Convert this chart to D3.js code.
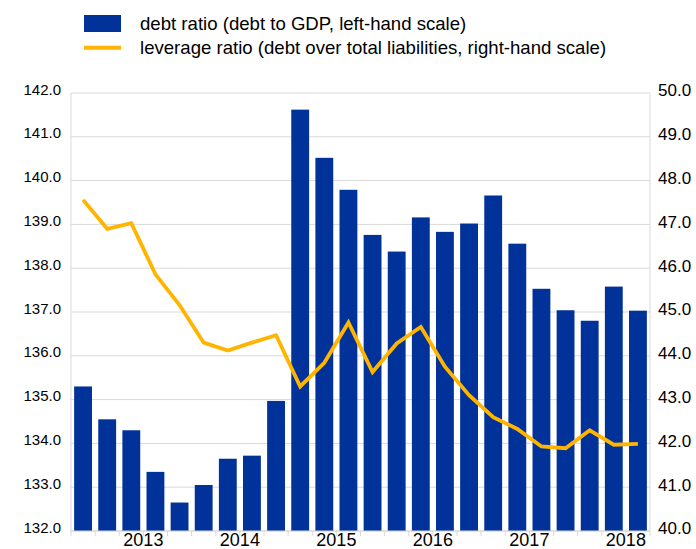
<!DOCTYPE html>
<html>
<head>
<meta charset="utf-8">
<script src="https://cdn.jsdelivr.net/npm/d3@7"></script>
<style>
  body { margin: 0; background: #fff; }
  text { font-family: "Liberation Sans", Arial, sans-serif; fill: #000; }
</style>
</head>
<body>
<div id="chart"></div>
<script>
// quarters 2012 Q4 .. 2018 Q3
var quarters = ["2012Q4",
  "2013Q1", "2013Q2", "2013Q3", "2013Q4",
  "2014Q1", "2014Q2", "2014Q3", "2014Q4",
  "2015Q1", "2015Q2", "2015Q3", "2015Q4",
  "2016Q1", "2016Q2", "2016Q3", "2016Q4",
  "2017Q1", "2017Q2", "2017Q3", "2017Q4",
  "2018Q1", "2018Q2", "2018Q3"];
var years = ["2013", "2014", "2015", "2016", "2017", "2018"];

// debt to GDP, left-hand scale
var debtRatio = [135.3,
  134.55, 134.3, 133.35, 132.65,
  133.05, 133.65, 133.72, 134.97,
  141.62, 140.52, 139.79, 138.76,
  138.38, 139.16, 138.83, 139.02,
  139.66, 138.56, 137.53, 137.04,
  136.8, 137.58, 137.03];

// debt over total liabilities, right-hand scale
var leverageRatio = [47.56,
  46.9, 47.03, 45.86, 45.16,
  44.3, 44.12, 44.3, 44.47,
  43.3, 43.84, 44.76, 43.63,
  44.28, 44.66, 43.75, 43.1,
  42.6, 42.33, 41.93, 41.89,
  42.3, 41.97, 41.99];

var leftTicks = d3.range(132, 142.01, 1);
var rightTicks = d3.range(40, 50.01, 1);

var W = 696, H = 549;
var margin = { top: 93, right: 46, bottom: 18, left: 71 };
var width = W - margin.left - margin.right;
var height = H - margin.top - margin.bottom;

var blue = "#003299", yellow = "#ffb400", grid = "#d9d9d9";

var svg = d3.select("#chart").append("svg")
    .attr("width", W)
    .attr("height", H);

var g = svg.append("g")
    .attr("transform", `translate(${margin.left},${margin.top})`);

var x = d3.scaleBand()
    .domain(quarters)
    .range([0, width])
    .paddingInner(0.26)
    .paddingOuter(0.13);

var yL = d3.scaleLinear().domain([132, 142]).range([height, 0]);
var yR = d3.scaleLinear().domain([40, 50]).range([height, 0]);

// gridlines
g.append("g")
    .selectAll("line")
    .data(leftTicks)
    .enter().append("line")
    .attr("x1", 0)
    .attr("x2", width)
    .attr("y1", d => yL(d))
    .attr("y2", d => yL(d))
    .attr("stroke", grid)
    .attr("stroke-width", 1);

// side frame lines
g.append("line").attr("x1", 0).attr("x2", 0).attr("y1", 0).attr("y2", height)
    .attr("stroke", grid);
g.append("line").attr("x1", width).attr("x2", width).attr("y1", 0).attr("y2", height)
    .attr("stroke", grid);

// bars
g.append("g")
    .selectAll("rect")
    .data(debtRatio)
    .enter().append("rect")
    .attr("x", (d, i) => x(quarters[i]))
    .attr("width", x.bandwidth())
    .attr("y", d => yL(d))
    .attr("height", d => height - yL(d))
    .attr("fill", blue);

// bottom axis: ticks between quarters, labels per year
var step = x.step();
var boundaries = d3.range(0, quarters.length + 1);
g.append("g")
    .selectAll("line")
    .data(boundaries)
    .enter().append("line")
    .attr("x1", d => d * step)
    .attr("x2", d => d * step)
    .attr("y1", height)
    .attr("y2", height + 5)
    .attr("stroke", grid);
g.append("line").attr("x1", 0).attr("x2", width).attr("y1", height).attr("y2", height)
    .attr("stroke", grid);

g.append("g")
    .selectAll("text")
    .data(years)
    .enter().append("text")
    .attr("x", d => (quarters.indexOf(d + "Q1") + 2) * step)
    .attr("y", height + 15)
    .attr("text-anchor", "middle")
    .style("font-size", "18px")
    .text(d => d);

// left tick labels
g.append("g")
    .selectAll("text")
    .data(leftTicks)
    .enter().append("text")
    .attr("x", -10)
    .attr("y", d => yL(d))
    .attr("dy", "0.1em")
    .attr("text-anchor", "end")
    .style("font-size", "15px")
    .text(d => d.toFixed(1));

// right tick labels
g.append("g")
    .selectAll("text")
    .data(rightTicks)
    .enter().append("text")
    .attr("x", width + 8)
    .attr("y", d => yR(d))
    .attr("dy", "0.2em")
    .attr("text-anchor", "start")
    .style("font-size", "17px")
    .text(d => d.toFixed(1));

// leverage line
var line = d3.line()
    .x((d, i) => x(quarters[i]) + x.bandwidth() / 2)
    .y(d => yR(d));

g.append("path")
    .datum(leverageRatio)
    .attr("d", line)
    .attr("fill", "none")
    .attr("stroke", yellow)
    .attr("stroke-width", 3.8)
    .attr("stroke-linejoin", "miter");

// legend
var legend = svg.append("g");
legend.append("rect")
    .attr("x", 84).attr("y", 15)
    .attr("width", 37).attr("height", 17)
    .attr("fill", blue);
legend.append("line")
    .attr("x1", 84).attr("x2", 121)
    .attr("y1", 47.7).attr("y2", 47.7)
    .attr("stroke", yellow)
    .attr("stroke-width", 4);
legend.append("text")
    .attr("x", 140).attr("y", 29.5)
    .style("font-size", "18.6px")
    .text("debt ratio (debt to GDP, left-hand scale)");
legend.append("text")
    .attr("x", 140).attr("y", 54)
    .style("font-size", "18.6px")
    .text("leverage ratio (debt over total liabilities, right-hand scale)");
</script>
</body>
</html>
